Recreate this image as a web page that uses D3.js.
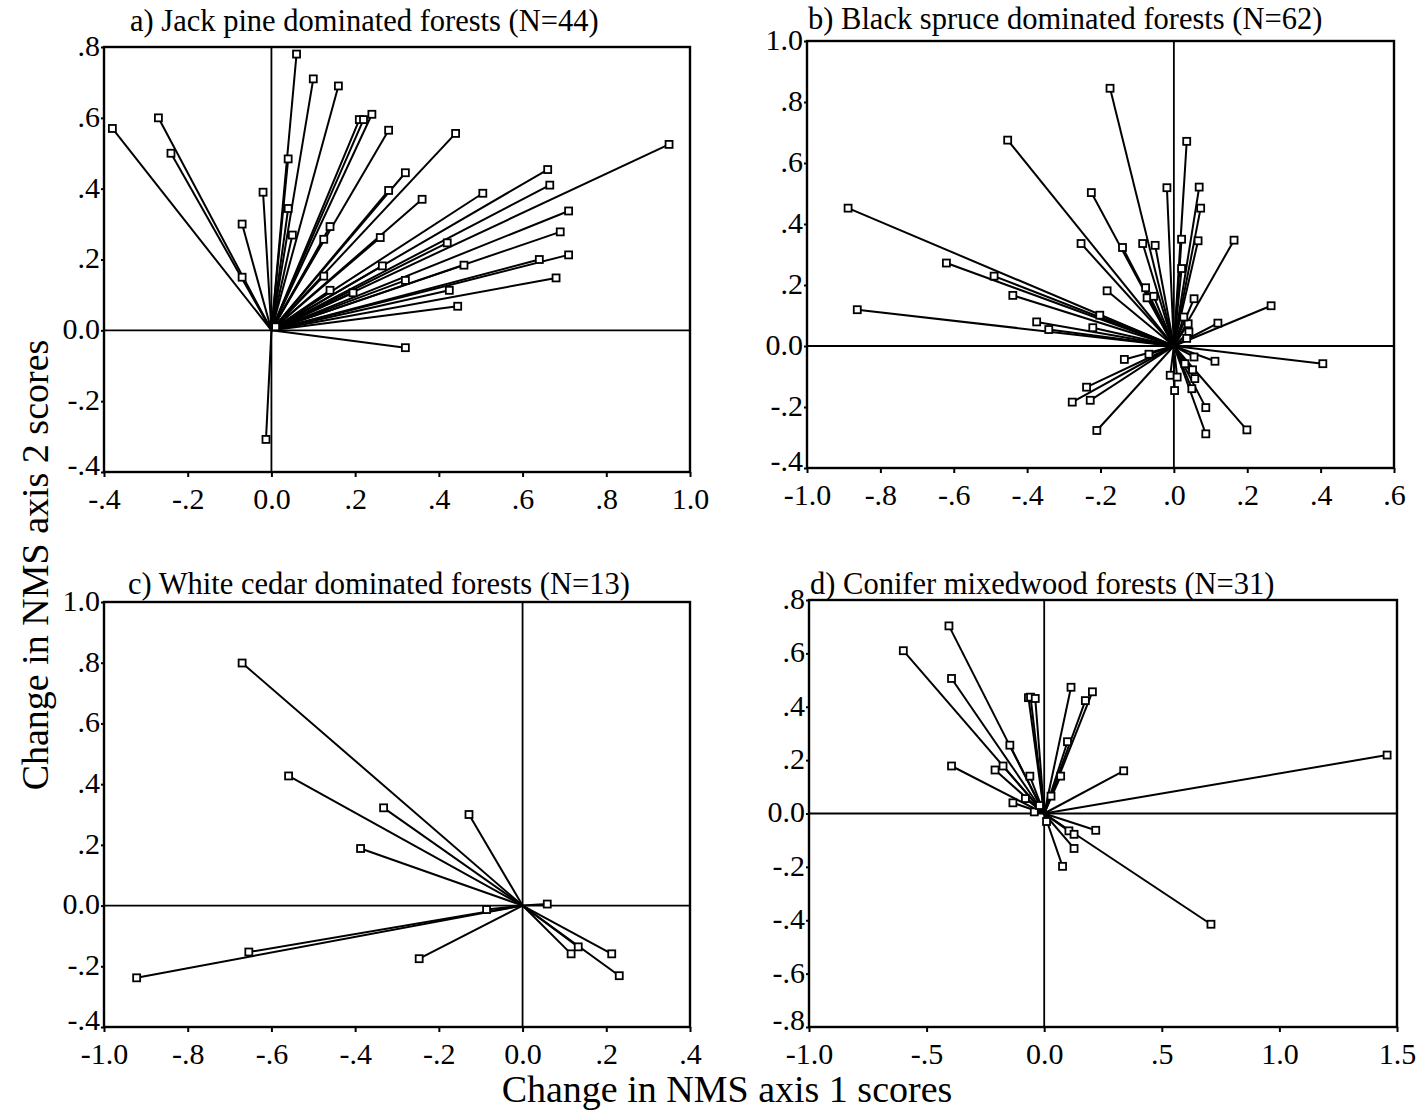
<!DOCTYPE html>
<html>
<head>
<meta charset="utf-8">
<style>
  body { margin: 0; background: #fff; }
  svg { font-family: "Liberation Serif", "Times New Roman", serif; }
</style>
</head>
<body>
<svg width="1426" height="1116"></svg>
<script src="https://d3js.org/d3.v7.min.js"></script>
<script>

  // endpoints of the change vectors (all start at the origin)
  var jackPine = [
    [-0.38, 0.57], [-0.27, 0.60], [-0.24, 0.50], [-0.07, 0.30], [-0.07, 0.15],
    [-0.02, 0.39], [0.06, 0.78], [0.10, 0.71], [0.16, 0.69], [0.24, 0.61],
    [0.21, 0.595], [0.22, 0.595], [0.28, 0.565], [0.44, 0.556], [0.95, 0.525],
    [0.04, 0.484], [0.04, 0.344], [0.05, 0.269], [0.32, 0.445], [0.28, 0.395],
    [0.36, 0.370], [0.505, 0.387], [0.66, 0.454], [0.665, 0.410], [0.71, 0.337],
    [0.69, 0.278], [0.71, 0.213], [0.64, 0.200], [0.68, 0.148], [0.445, 0.068],
    [0.425, 0.113], [0.46, 0.184], [0.42, 0.247], [0.32, 0.141], [0.265, 0.182],
    [0.26, 0.262], [0.14, 0.293], [0.125, 0.257], [0.125, 0.153], [0.14, 0.113],
    [0.195, 0.106], [0.32, -0.049], [-0.013, -0.308], [0.01, 0.01]
  ];

  var blackSpruce = [
    [-0.174, 0.845], [-0.453, 0.675], [0.035, 0.671], [-0.888, 0.452], [-0.225, 0.503],
    [-0.019, 0.519], [0.069, 0.521], [0.073, 0.452], [-0.253, 0.336], [-0.140, 0.323],
    [-0.085, 0.336], [-0.051, 0.330], [0.021, 0.350], [0.066, 0.345], [0.164, 0.347],
    [-0.620, 0.272], [-0.490, 0.229], [-0.439, 0.166], [-0.182, 0.181], [-0.077, 0.191],
    [-0.073, 0.158], [-0.055, 0.163], [0.021, 0.254], [0.055, 0.155], [0.265, 0.132],
    [-0.863, 0.119], [-0.374, 0.079], [-0.341, 0.054], [-0.221, 0.060], [-0.202, 0.101],
    [0.120, 0.075], [0.039, 0.073], [0.041, 0.046], [0.027, 0.095], [0.406, -0.058],
    [0.112, -0.050], [0.055, -0.036], [-0.135, -0.044], [-0.068, -0.027], [-0.238, -0.135],
    [-0.277, -0.184], [-0.228, -0.178], [-0.210, -0.277], [-0.010, -0.096], [0.009, -0.102],
    [0.002, -0.146], [0.051, -0.078], [0.057, -0.107], [0.049, -0.140], [0.087, -0.202],
    [0.087, -0.288], [0.199, -0.275], [0.030, -0.058], [0.035, 0.025]
  ];

  var whiteCedar = [
    [-0.670, 0.799], [-0.559, 0.427], [-0.332, 0.322], [-0.128, 0.300], [-0.387, 0.188],
    [0.059, 0.005], [-0.086, -0.013], [-0.654, -0.153], [-0.922, -0.238], [-0.247, -0.175],
    [0.116, -0.159], [0.133, -0.136], [0.213, -0.159], [0.231, -0.231]
  ];

  var coniferMixed = [
    [-0.405, 0.703], [-0.599, 0.610], [-0.394, 0.506], [-0.067, 0.434], [-0.058, 0.436],
    [-0.038, 0.431], [0.114, 0.473], [0.205, 0.456], [0.175, 0.423], [-0.146, 0.256],
    [0.099, 0.269], [-0.394, 0.178], [-0.209, 0.163], [-0.175, 0.178], [-0.061, 0.140],
    [0.070, 0.140], [0.338, 0.160], [1.458, 0.219], [-0.133, 0.040], [-0.080, 0.056],
    [0.029, 0.065], [-0.042, 0.006], [0.105, -0.065], [0.127, -0.078], [0.219, -0.063],
    [0.127, -0.131], [0.078, -0.198], [0.709, -0.415], [-0.02, 0.03], [0.01, -0.03]
  ];

  // tick values and their printed labels
  var ticksA_x = [-0.4, -0.2, 0, 0.2, 0.4, 0.6, 0.8, 1.0];
  var labelsA_x = ["-.4", "-.2", "0.0", ".2", ".4", ".6", ".8", "1.0"];
  var ticksA_y = [-0.4, -0.2, 0, 0.2, 0.4, 0.6, 0.8];
  var labelsA_y = ["-.4", "-.2", "0.0", ".2", ".4", ".6", ".8"];

  var ticksB_x = [-1.0, -0.8, -0.6, -0.4, -0.2, 0, 0.2, 0.4, 0.6];
  var labelsB_x = ["-1.0", "-.8", "-.6", "-.4", "-.2", ".0", ".2", ".4", ".6"];
  var ticksB_y = [-0.4, -0.2, 0, 0.2, 0.4, 0.6, 0.8, 1.0];
  var labelsB_y = ["-.4", "-.2", "0.0", ".2", ".4", ".6", ".8", "1.0"];

  var ticksC_x = [-1.0, -0.8, -0.6, -0.4, -0.2, 0, 0.2, 0.4];
  var labelsC_x = ["-1.0", "-.8", "-.6", "-.4", "-.2", "0.0", ".2", ".4"];
  var ticksC_y = [-0.4, -0.2, 0, 0.2, 0.4, 0.6, 0.8, 1.0];
  var labelsC_y = ["-.4", "-.2", "0.0", ".2", ".4", ".6", ".8", "1.0"];

  var ticksD_x = [-1.0, -0.5, 0, 0.5, 1.0, 1.5];
  var labelsD_x = ["-1.0", "-.5", "0.0", ".5", "1.0", "1.5"];
  var ticksD_y = [-0.8, -0.6, -0.4, -0.2, 0, 0.2, 0.4, 0.6, 0.8];
  var labelsD_y = ["-.8", "-.6", "-.4", "-.2", "0.0", ".2", ".4", ".6", ".8"];

  var svg = d3.select("svg");

  var panels = [
    {title: "a) Jack pine dominated forests (N=44)", data: jackPine,
     box: [104, 690, 47, 472], titleX: 130, titleY: 31,
     xDom: [-0.4, 1.0], yDom: [-0.4, 0.8],
     xt: ticksA_x, xl: labelsA_x, yt: ticksA_y, yl: labelsA_y},
    {title: "b) Black spruce dominated forests (N=62)", data: blackSpruce,
     box: [807, 1394, 41, 468], titleX: 808, titleY: 29,
     xDom: [-1.0, 0.6], yDom: [-0.4, 1.0],
     xt: ticksB_x, xl: labelsB_x, yt: ticksB_y, yl: labelsB_y},
    {title: "c) White cedar dominated forests (N=13)", data: whiteCedar,
     box: [104, 690, 602, 1027], titleX: 128, titleY: 594,
     xDom: [-1.0, 0.4], yDom: [-0.4, 1.0],
     xt: ticksC_x, xl: labelsC_x, yt: ticksC_y, yl: labelsC_y},
    {title: "d) Conifer mixedwood forests (N=31)", data: coniferMixed,
     box: [809, 1397, 600, 1027], titleX: 810, titleY: 594,
     xDom: [-1.0, 1.5], yDom: [-0.8, 0.8],
     xt: ticksD_x, xl: labelsD_x, yt: ticksD_y, yl: labelsD_y}
  ];

  panels.forEach(function (p) {
    var x = d3.scaleLinear().domain(p.xDom).range([p.box[0], p.box[1]]);
    var y = d3.scaleLinear().domain(p.yDom).range([p.box[3], p.box[2]]);
    var g = svg.append("g");

    g.append("text")
      .attr("x", p.titleX)
      .attr("y", p.titleY)
      .attr("font-size", 30.5)
      .text(p.title);

    // zero reference lines
    g.append("line")
      .attr("x1", x(0)).attr("x2", x(0))
      .attr("y1", p.box[2]).attr("y2", p.box[3])
      .attr("stroke", "#000").attr("stroke-width", 1.8);
    g.append("line")
      .attr("x1", p.box[0]).attr("x2", p.box[1])
      .attr("y1", y(0)).attr("y2", y(0))
      .attr("stroke", "#000").attr("stroke-width", 1.8);

    // vectors
    g.selectAll(".vec")
      .data(p.data)
      .enter().append("line")
      .attr("class", "vec")
      .attr("x1", x(0)).attr("y1", y(0))
      .attr("x2", function (d) { return x(d[0]); })
      .attr("y2", function (d) { return y(d[1]); })
      .attr("stroke", "#000").attr("stroke-width", 2);

    g.selectAll(".pt")
      .data(p.data)
      .enter().append("rect")
      .attr("class", "pt")
      .attr("x", function (d) { return x(d[0]) - 3.5; })
      .attr("y", function (d) { return y(d[1]) - 3.5; })
      .attr("width", 7).attr("height", 7)
      .attr("fill", "#fff").attr("stroke", "#000").attr("stroke-width", 1.8);

    // frame
    g.append("rect")
      .attr("x", p.box[0]).attr("y", p.box[2])
      .attr("width", p.box[1] - p.box[0]).attr("height", p.box[3] - p.box[2])
      .attr("fill", "none").attr("stroke", "#000").attr("stroke-width", 2.4);

    var xAxis = d3.axisBottom(x).tickValues(p.xt).tickSize(5).tickPadding(11)
      .tickFormat(function (d, i) { return p.xl[i]; });
    var yAxis = d3.axisLeft(y).tickValues(p.yt).tickSize(3).tickPadding(1)
      .tickFormat(function (d, i) { return p.yl[i]; });

    var gx = g.append("g").attr("transform", "translate(0," + p.box[3] + ")").call(xAxis);
    var gy = g.append("g").attr("transform", "translate(" + p.box[0] + ",0)").call(yAxis);
    [gx, gy].forEach(function (a) {
      a.select(".domain").remove();
      a.selectAll("line").attr("stroke", "#000").attr("stroke-width", 2);
      a.selectAll("text")
        .attr("font-family", "Liberation Serif, Times New Roman, serif")
        .attr("font-size", 30).attr("fill", "#000");
    });
    // lowest y label sits a little above its tick, as in the print
    gy.selectAll("text").attr("dy", function (d, i) { return i === 0 ? "0.08em" : "0.28em"; });
  });

  svg.append("text")
    .attr("x", 727).attr("y", 1102)
    .attr("text-anchor", "middle")
    .attr("font-size", 38)
    .text("Change in NMS axis 1 scores");

  svg.append("text")
    .attr("transform", "translate(48,565) rotate(-90)")
    .attr("text-anchor", "middle")
    .attr("font-size", 38)
    .text("Change in NMS axis 2 scores");

</script>
</body>
</html>
